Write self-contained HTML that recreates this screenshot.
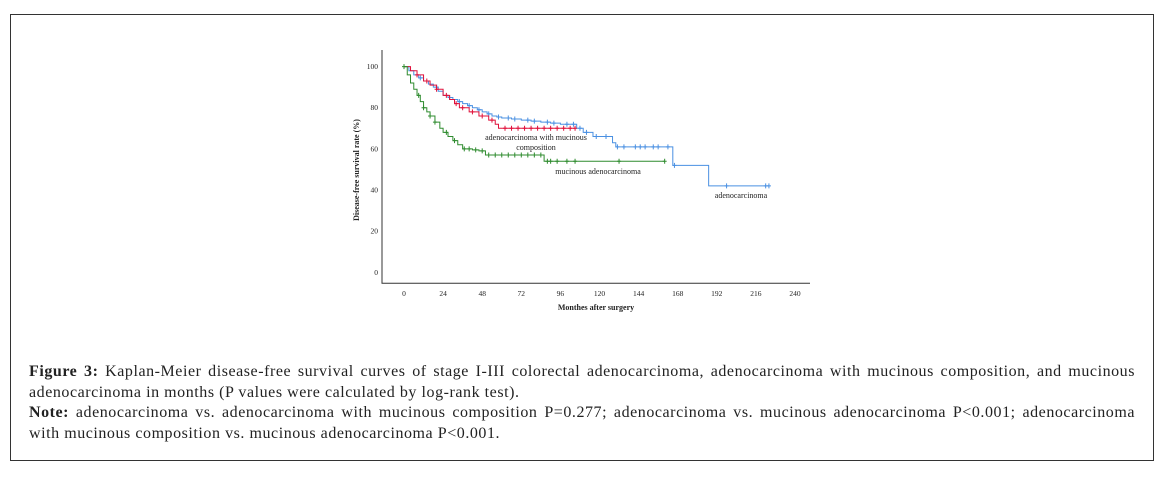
<!DOCTYPE html>
<html><head><meta charset="utf-8"><style>
body{margin:0;width:1168px;height:477px;background:#fff;position:relative;overflow:hidden;font-family:"Liberation Serif",serif}
#frame{position:absolute;left:10px;top:14px;width:1144px;height:447px;border:1px solid #333;box-sizing:border-box}
.cap{position:absolute;left:29px;width:1106px;font-size:16px;letter-spacing:0.55px;line-height:20.5px;color:#222;text-align:justify;text-align-last:left}
.cap b{font-weight:bold}
</style></head><body>
<div id="frame"></div>
<svg id="chart" width="1168" height="360" style="position:absolute;left:0;top:0"></svg>
<div class="cap" style="top:362px"><b>Figure 3:</b> Kaplan-Meier disease-free survival curves of stage I-III colorectal adenocarcinoma, adenocarcinoma with mucinous composition, and mucinous adenocarcinoma in months (P values were calculated by log-rank test).</div>
<div class="cap" style="top:403px"><b>Note:</b> adenocarcinoma vs. adenocarcinoma with mucinous composition P=0.277; adenocarcinoma vs. mucinous adenocarcinoma P&lt;0.001; adenocarcinoma with mucinous composition vs. mucinous adenocarcinoma P&lt;0.001.</div>
<script>
const xTicks=[0,24,48,72,96,120,144,168,192,216,240];
const yTicks=[0,20,40,60,80,100];
const blueT=[0,3,6,9,12,15,18,21,24,27,30,33,36,39,42,45,48,51,54,57,60,66,72,78,84,90,96,106,110,116,128,130,165,187];
const blueS=[100,98,96,94.5,93,91.5,90,88,86,85,84,83,82,81,80,79,78,77,76,75.5,75,74.5,74,73.5,73,72.5,72,70,68,66,63,61,52,42];
const blueEnd=224;
const blueCens=[10,20,28,34,40,46,52,58,64,68,76,80,88,92,100,104,108,112,118,124,131,135,142,145,148,153,156,162,166,198,222,224];
const redT=[0,4,8,12,16,20,24,28,31,34,40,46,52,56,58];
const redS=[100,98,96,93,91,89,86,84,82,80,78,76,74,72,70];
const redEnd=105;
const redCens=[8,14,20,26,32,36,42,48,54,62,66,70,74,78,82,86,90,94,98,102,105];
const greenT=[0,2,4,6,8,10,12,14,16,19,22,24,27,30,33,36,42,46,50,86];
const greenS=[100,96,92,89,86,83,80,78,76,73,70,68,66,64,62,60,59.5,59,57,54];
const greenEnd=160;
const greenCens=[0,9,12,16,19,26,31,37,40,44,48,52,56,60,64,68,72,76,80,84,88,90,94,100,105,132,160];
const svg=document.getElementById('chart');const NS='http://www.w3.org/2000/svg';
const X=m=>404+m*(391/240), Y=v=>272.3-v*2.057;
function mk(t,a,name){const e=document.createElementNS(NS,t);for(const k in a)e.setAttribute(k,a[k]);


svg.appendChild(e);return e;}
mk('path',{d:`M382,50V283.3H810`,stroke:'#333',fill:'none','stroke-width':1},'axes');
xTicks.forEach(t=>{const e=mk('text',{x:X(t),y:296,'font-size':7.5,'text-anchor':'middle',fill:'#222'},'x-tick-label');e.textContent=t;});
yTicks.forEach(t=>{const e=mk('text',{x:378,y:Y(t)+2.5,'font-size':7.5,'text-anchor':'end',fill:'#222'},'y-tick-label');e.textContent=t;});
let e=mk('text',{x:596,y:310,'font-size':8,'font-weight':'bold','text-anchor':'middle',fill:'#222'},'x-axis-title');e.textContent='Monthes after surgery';
e=mk('text',{transform:'translate(359,170) rotate(-90)','font-size':8,'font-weight':'bold','text-anchor':'middle',fill:'#222'},'y-axis-title');e.textContent='Disease-free survival rate (%)';
function stepAt(T,S,m){let v=S[0];for(let i=0;i<T.length;i++)if(T[i]<=m)v=S[i];return v;}
function series(T,S,end,cens,col,name){let d=`M${X(T[0])},${Y(S[0])}`;
for(let i=1;i<T.length;i++){d+=`H${X(T[i])}V${Y(S[i])}`;}d+=`H${X(end)}`;
mk('path',{d,stroke:col,fill:'none','stroke-width':1},name+'-curve');
cens.forEach(c=>{const x=X(c),y=Y(stepAt(T,S,c));mk('path',{d:`M${x-2},${y}H${x+2}M${x},${y-2.5}V${y+2.5}`,stroke:col,'stroke-width':1},name+'-censor');});}
series(blueT,blueS,blueEnd,blueCens,'#4a90e2','adenocarcinoma');
series(redT,redS,redEnd,redCens,'#e0103a','mucinous-composition');
series(greenT,greenS,greenEnd,greenCens,'#2e8b2e','mucinous');
[['adenocarcinoma with mucinous',536,140,'label-mucinous-composition'],['composition',536,150,'label-mucinous-composition-2'],['mucinous adenocarcinoma',598,174,'label-mucinous'],['adenocarcinoma',741,198,'label-adenocarcinoma']].forEach(a=>{const t=mk('text',{x:a[1],y:a[2],'font-size':8,'text-anchor':'middle',fill:'#222'},a[3]);t.textContent=a[0];});
</script>
</body></html>
